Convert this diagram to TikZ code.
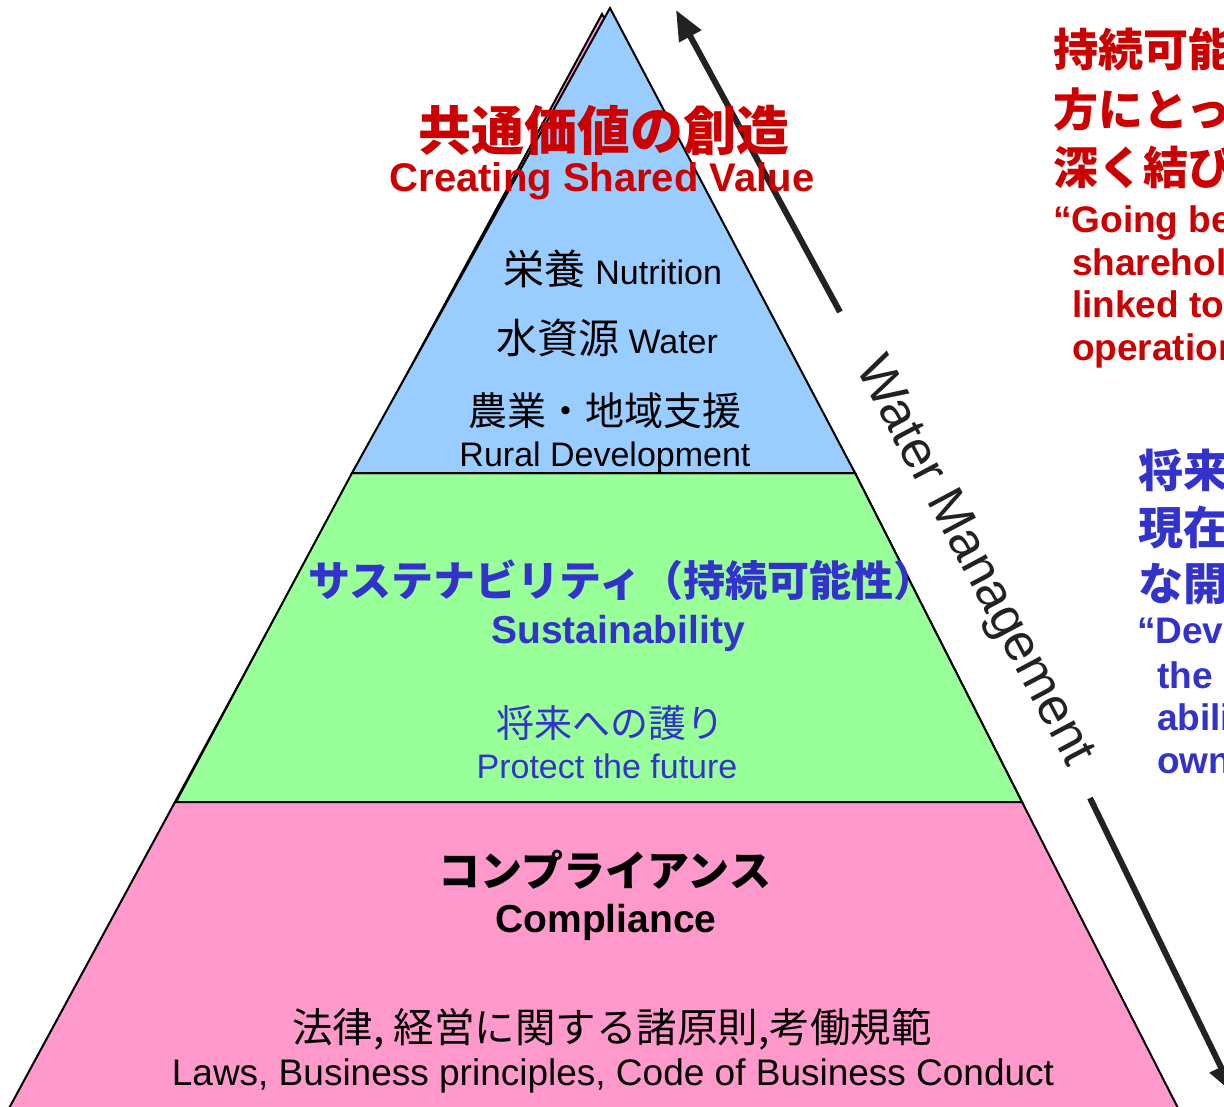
\documentclass[tikz,border=0pt]{standalone}
\usepackage{fontspec}
\setmainfont{Liberation Sans}
\newfontfamily\jp{Noto Sans CJK JP}
\usetikzlibrary{arrows.meta}
\definecolor{csvred}{HTML}{CC0000}
\definecolor{susblue}{HTML}{3333CC}
\definecolor{topfill}{HTML}{99CCFF}
\definecolor{midfill}{HTML}{99FF99}
\definecolor{basefill}{HTML}{FF99CC}
\definecolor{arrowgray}{HTML}{222222}
\newcommand\setfs[1]{\fontsize{#1pt}{#1pt}\selectfont}
\begin{document}
\begin{tikzpicture}[x=1pt,y=-1pt,
  txt/.style={inner sep=0pt, anchor=base},
  rtxt/.style={inner sep=0pt, anchor=base west},
  layer/.style={draw=black, line width=2pt, line join=miter},
  flow/.style={draw=arrowgray, line width=6pt, -{Triangle[length=30pt,width=24pt]}}]
\useasboundingbox (0,0) rectangle (1224,1107);
\clip (0,0) rectangle (1224,1107);
\fill[white] (0,0) rectangle (1224,1107);

% pyramid layers
\path[layer, fill=basefill] (602,14) -- (7,1112) -- (1180,1112) -- (1022,802) -- (855,473) -- cycle;
\path[layer, fill=midfill] (352,473) -- (855,473) -- (1022,802) -- (176,802) -- cycle;
\path[layer, fill=topfill] (610,8) -- (855,473) -- (352,473) -- cycle;

% water management arrows
\coordinate (upS) at (840,312);
\coordinate (upE) at (676,10);
\coordinate (dnS) at (1090,798);
\coordinate (dnE) at (1234,1094);
\draw[flow] (upS) -- (upE);
\draw[flow] (dnS) -- (dnE);
\node[inner sep=0pt, font=\setfs{52}, rotate=-62, text=arrowgray] (wm) at (973,562) {Water Management};

% top layer
\node[txt, text=csvred, font=\jp\bfseries\setfs{53}] (csvjp) at (604,151) {共通価値の創造};
\node[txt, text=csvred, font=\bfseries\setfs{40}] (csven) at (602,192) {Creating Shared Value};
\node[txt, font=\setfs{34}] (nut) at (613,285) {{\jp\setfs{41}栄養} Nutrition};
\node[txt, font=\setfs{34}] (wat) at (607,354) {{\jp\setfs{41}水資源} Water};
\node[txt, font=\jp\setfs{39}] (ruraljp) at (605,425) {農業・地域支援};
\node[txt, font=\setfs{34}] (ruralen) at (605,466) {Rural Development};

% middle layer
\node[txt, text=susblue, font=\jp\bfseries\setfs{42}] (susjp) at (622,596) {サステナビリティ（持続可能性）};
\node[txt, text=susblue, font=\bfseries\setfs{39}] (susen) at (618,643) {Sustainability};
\node[txt, text=susblue, font=\jp\setfs{38}] (protjp) at (610,737) {将来への護り};
\node[txt, text=susblue, font=\setfs{34}] (proten) at (607,778) {Protect the future};

% bottom layer
\node[txt, font=\jp\bfseries\setfs{42}] (compjp) at (605,886) {コンプライアンス};
\node[txt, font=\bfseries\setfs{39}] (compen) at (606,932) {Compliance};
\node[txt, font=\jp\setfs{40.5}] (lawjp) at (612,1042) {法律, 経営に関する諸原則,考働規範};
\node[txt, font=\setfs{37}] (lawen) at (613,1085) {Laws, Business principles, Code of Business Conduct};

% right side: CSV definition (cut at the edge)
\node[rtxt, text=csvred, font=\jp\bfseries\setfs{45}] (r1) at (1053,67) {持続可能性};
\node[rtxt, text=csvred, font=\jp\bfseries\setfs{45}] (r2) at (1053,127) {方にとって};
\node[rtxt, text=csvred, font=\jp\bfseries\setfs{45}] (r3) at (1053,185) {深く結びつ};
\node[rtxt, text=csvred, font=\bfseries\setfs{37}] (r4) at (1053,233) {“Going beyond};
\node[rtxt, text=csvred, font=\bfseries\setfs{37}] (r5) at (1072,276) {shareholders};
\node[rtxt, text=csvred, font=\bfseries\setfs{37}] (r6) at (1072,318) {linked to our};
\node[rtxt, text=csvred, font=\bfseries\setfs{37}] (r7) at (1072,360) {operations};

% right side: sustainability definition (cut at the edge)
\node[rtxt, text=susblue, font=\jp\bfseries\setfs{45}] (b1) at (1138,487) {将来の};
\node[rtxt, text=susblue, font=\jp\bfseries\setfs{45}] (b2) at (1138,544) {現在の};
\node[rtxt, text=susblue, font=\jp\bfseries\setfs{45}] (b3) at (1138,600) {な開発};
\node[rtxt, text=susblue, font=\bfseries\setfs{37}] (b4) at (1137,643) {“Development};
\node[rtxt, text=susblue, font=\bfseries\setfs{37}] (b5) at (1157,688) {the};
\node[rtxt, text=susblue, font=\bfseries\setfs{37}] (b6) at (1157,730) {ability};
\node[rtxt, text=susblue, font=\bfseries\setfs{37}] (b7) at (1157,773) {own needs};
\end{tikzpicture}
\end{document}
